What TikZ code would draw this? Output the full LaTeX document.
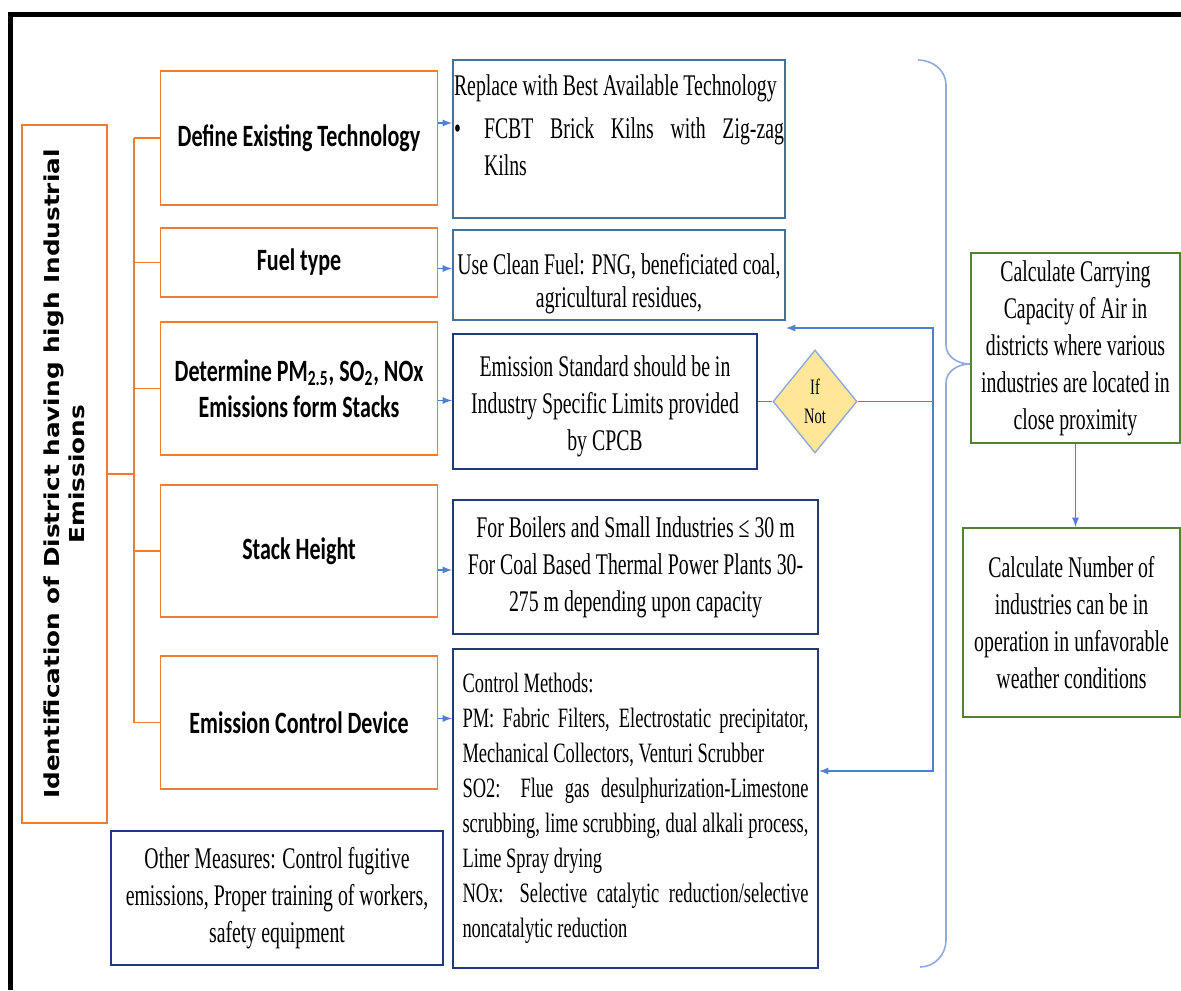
\documentclass[tikz,border=0pt]{standalone}
\usepackage{fontspec}
\setmainfont[FakeStretch=0.66]{Liberation Serif}
\newfontfamily\calfont[FakeStretch=0.71]{Carlito}
\newfontfamily\vertfont[FakeStretch=1.2]{DejaVu Sans}
\usepackage{tikz}
\usetikzlibrary{positioning}
\usetikzlibrary{calc}
\usetikzlibrary{arrows,shapes,backgrounds}

\definecolor{orgline}{HTML}{ED7D31}
\definecolor{steelbox}{HTML}{41719C}
\definecolor{navybox}{HTML}{22397A}
\definecolor{grnbox}{HTML}{548235}
\definecolor{conline}{HTML}{4F80D0}
\definecolor{braceline}{HTML}{8FAADC}
\definecolor{ifyellow}{HTML}{FFE699}
\newcommand{\jline}[1]{\makebox[\linewidth][s]{#1}}

\begin{document}
\begin{tikzpicture}[x=0.5pt,y=-0.5pt,
  obox/.style={draw=orgline, line width=0.9pt, minimum width=138.5pt, inner sep=1pt,
    align=center, font=\calfont\bfseries\fontsize{15.5}{18}\selectfont},
  bbox/.style={draw=navybox, line width=1.1pt, inner sep=1pt, align=center,
    font=\fontsize{15}{18.5}\selectfont},
  gbox/.style={draw=grnbox, line width=1.1pt, inner sep=1pt, align=center,
    font=\fontsize{15}{18.5}\selectfont},
  oline/.style={draw=orgline, line width=0.9pt},
  cline/.style={draw=conline, line width=0.6pt}]
\useasboundingbox (0,0) rectangle (1181,990);

% frame of the screenshot
\draw[line width=2.5pt] (1181,14.5) -- (10.5,14.5) -- (10.5,990);

% left column
\node[draw=orgline, line width=0.9pt, rotate=90, minimum width=349pt, minimum height=42.5pt,
  inner sep=1pt, align=center, font=\vertfont\bfseries\fontsize{10.3}{12.5}\selectfont]
  (ident) at (64.5,474) {Identification of District having high Industrial\\ Emissions};

\node[obox, minimum height=67pt]   (def)   at (299,138)   {Define Existing Technology};
\node[obox, minimum height=34.5pt] (fuel)  at (299,262.5) {Fuel type};
\node[obox, minimum height=66.5pt] (pm)    at (299,388.5)
  {Determine PM\textsubscript{2.5}, SO\textsubscript{2}, NOx\\Emissions form Stacks};
\node[obox, minimum height=66pt]   (stack) at (299,551)   {Stack Height};
\node[obox, minimum height=66.5pt] (ecd)   at (299,722.5) {Emission Control Device};

% measures
\node[bbox, draw=steelbox, inner xsep=0.5pt, inner ysep=2.5pt] (rep) at (619,139)
  {\parbox[c][74pt][t]{165pt}{\vspace*{5pt}Replace with Best Available Technology\\[3pt]
   \makebox[15pt][l]{•}\makebox[150pt][s]{FCBT Brick Kilns with Zig-zag}\\
   \hspace*{15pt}Kilns}};
\node[bbox, draw=steelbox, minimum width=166pt, minimum height=45pt,
  font=\fontsize{15}{16.5}\selectfont] (cln) at (619,275)
  {\rule{0pt}{19pt}Use Clean Fuel: PNG, beneficiated coal,\\agricultural residues,};
\node[bbox, minimum width=152pt, minimum height=67.5pt] (std) at (605,401.5)
  {\rule{0pt}{15pt}Emission Standard should be in\\Industry Specific Limits provided\\by CPCB};
\node[bbox, minimum width=182.5pt, minimum height=67pt] (bhgt) at (635.5,567)
  {For Boilers and Small Industries ≤ 30 m\\For Coal Based Thermal Power Plants 30-\\275 m depending upon capacity};
\node[bbox, minimum width=182.5pt, minimum height=159.5pt, text width=173pt, align=left,
  font=\fontsize{14}{17.5}\selectfont] (ctrl) at (635.5,808.5)
  {\spaceskip=0pt\xspaceskip=0pt\relax
   Control Methods:\\
   \jline{PM: Fabric Filters, Electrostatic precipitator,}\\
   Mechanical Collectors, Venturi Scrubber\\
   \jline{SO2: Flue gas desulphurization-Limestone}\\
   \jline{scrubbing, lime scrubbing, dual alkali process,}\\
   Lime Spray drying\\
   \jline{NOx: Selective catalytic reduction/selective}\\
   noncatalytic reduction};
\node[bbox, minimum width=166pt, minimum height=67pt] (other) at (277,898)
  {Other Measures: Control fugitive\\emissions, Proper training of workers,\\safety equipment};

\node[diamond, draw=braceline, line width=0.7pt, fill=ifyellow, inner sep=0pt,
  minimum width=42pt, minimum height=51.5pt, align=center,
  font=\fontsize{11}{14.5}\selectfont] (ifnot) at (815,401.5) {If\\Not};

% carrying capacity
\node[gbox, minimum width=104.5pt, minimum height=95pt] (cap) at (1075.5,348)
  {Calculate Carrying\\Capacity of Air in\\districts where various\\industries are located in\\close proximity};
\node[gbox, minimum width=108.5pt, minimum height=94.5pt] (num) at (1071.5,622.5)
  {Calculate Number of\\industries can be in\\operation in unfavorable\\weather conditions};

% tree
\coordinate (bus) at (134,474);
\draw[oline] (ident.south) -- (bus);
\draw[oline] (bus |- def.west) -- (bus |- ecd.west);
\foreach \n in {def,fuel,pm,stack,ecd}
  \draw[oline] (bus |- \n.west) -- (\n.west);

\foreach \a/\b/\s in {def/rep/7.5,fuel/cln/-3,pm/std/-6,stack/bhgt/-9.5,ecd/ctrl/2}
  \draw[cline,-latex] ([yshift=\s pt]\a.east) -- ([yshift=\s pt]\a.east -| \b.west);

% if not loop
\coordinate (ltop) at (933,328);
\coordinate (lbot) at (933,771);
\draw[cline] (std.east) -- (ifnot.west);
\draw[cline] (ifnot.east) -- (ifnot.east -| ltop);
\draw[cline,latex-latex] (ltop -| cln.east) -- (ltop) -- (lbot) -- (lbot -| ctrl.east);

\draw[cline,-latex] (cap.south) -- (cap.south |- num.north);

% brace
\draw[braceline, line width=0.8pt] (918,60) to[out=0,in=90] (946,85) -- (946,345)
  to[out=-90,in=180] (970,364) to[out=180,in=90] (946,383) -- (946,940)
  to[out=-90,in=0] (920,967);

\end{tikzpicture}
\end{document}
